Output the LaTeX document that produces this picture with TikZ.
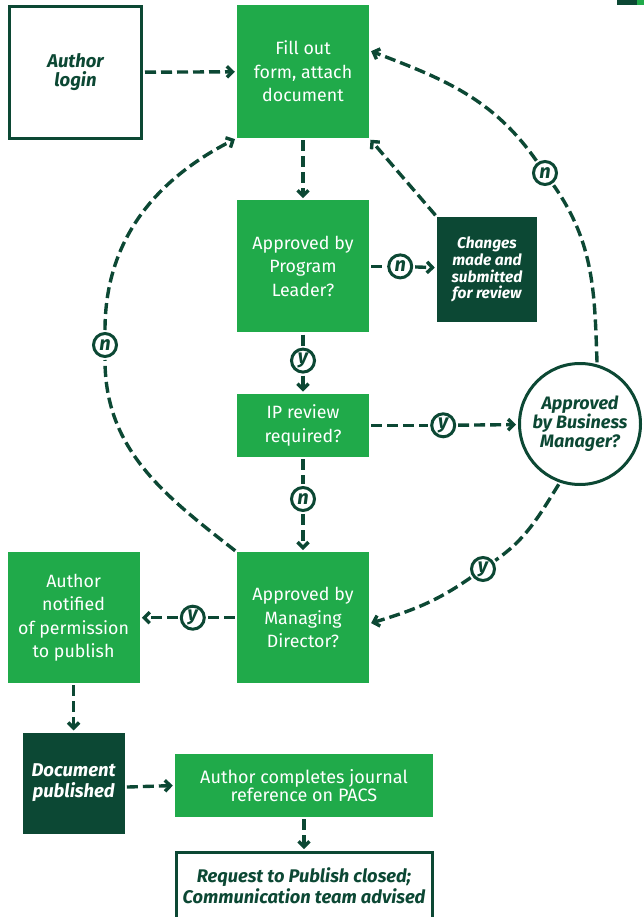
\documentclass[tikz,border=0pt]{standalone}
\usepackage{fontspec}
\setmainfont{Fira Sans}
\usetikzlibrary{arrows.meta,positioning,calc}
\definecolor{leaf}{RGB}{32,170,74}
\definecolor{pine}{RGB}{12,72,52}

\begin{document}
\begin{tikzpicture}[x=1pt,y=-1pt,>={Straight Barb[length=5.5pt,width=11pt]},
    dline/.style={draw=pine,line width=3.4pt,dash pattern=on 11pt off 5pt,
      shorten >=2pt,shorten <=2pt},
    greenbox/.style={fill=leaf,text=white,align=center,inner sep=0pt,
      minimum width=132pt,font=\fontsize{17.8}{23.5}\selectfont},
    darkbox/.style={fill=pine,text=white,align=center,inner sep=0pt,
      font=\bfseries\itshape\fontsize{18.5}{21}\selectfont},
    outbox/.style={draw=pine,line width=3pt,fill=white,text=pine,align=center,
      inner sep=0pt,font=\bfseries\itshape\fontsize{18.5}{19}\selectfont},
    yn/.style={circle,draw=pine,line width=3pt,fill=white,text=pine,inner sep=0pt,
      minimum size=23pt,font=\bfseries\itshape\fontsize{20}{20}\selectfont}]

    \useasboundingbox (0,0) rectangle (644,917);
    \fill[pine] (617,0) rectangle (637,5); \fill[leaf] (637,0) rectangle (644,5);

    \node[outbox,minimum width=132pt,minimum height=132pt] (login) at (75.5,72.5) {Author\\login};
    \node[greenbox,minimum height=133pt] (fill) at (303,71.5) {Fill out\\form, attach\\document};
    \node[greenbox,minimum height=132pt] (pl) [below=62pt of fill] {Approved by\\Program\\Leader?};
    \node[darkbox,minimum width=100pt,minimum height=105pt,
      font=\bfseries\itshape\fontsize{15.5}{16.7}\selectfont] (chg) at (487,269.5)
      {Changes\\made and\\submitted\\for review};
    \node[greenbox,minimum height=63pt] (ip) [below=61pt of pl] {IP review\\required?};
    \node[outbox,circle,minimum size=121pt,font=\bfseries\itshape\fontsize{18}{19}\selectfont]
      (bm) at (580,424) {Approved\\by Business\\Manager?};
    \node[greenbox,minimum height=131pt] (md) [below=95pt of ip] {Approved by\\Managing\\Director?};
    \node[greenbox,minimum height=131pt] (notif) [left=97pt of md]
      {Author\\notified\\of permission\\to publish};
    \node[darkbox,minimum width=102pt,minimum height=101pt] (pub) [below=49pt of notif]
      {Document\\published};
    \node[greenbox,minimum width=258pt,minimum height=63pt,font=\fontsize{18}{18.5}\selectfont]
      (comp) at (304,785.5) {Author completes journal\\reference on PACS};
    \node[outbox,minimum width=256pt,minimum height=67pt,
      font=\bfseries\itshape\fontsize{18.3}{21}\selectfont] (req) [below=34pt of comp]
      {Request to Publish closed;\\Communication team advised};

    \node[yn] (n1) [right=18pt of pl] {n}; \node[yn] (y1) [below=15pt of pl] {y};
    \node[yn] (y2) [right=61pt of ip] {y}; \node[yn] (n2) [below=29pt of ip] {n};
    \node[yn] (y3) [left=31pt of md] {y};
    \node[yn] (n3) at (545,173) {n}; \node[yn] (n4) at (105,345) {n};
    \node[yn] (y4) at (483,569) {y};

    \draw[dline,->] (login) -- (fill);
    \draw[dline,->] (fill) -- (pl);
    \draw[dline] (pl) -- (n1); \draw[dline,->] (n1) -- (chg);
    \draw[dline,->] (chg.north west) -- (fill.south east);
    \draw[dline] (pl) -- (y1); \draw[dline,->] (y1) -- (ip);
    \draw[dline] (ip) -- (y2); \draw[dline,->] (y2) -- (bm);
    \draw[dline] (ip) -- (n2); \draw[dline,->] (n2) -- (md);
    \draw[dline] (md) -- (y3); \draw[dline,->] (y3) -- (notif);
    \draw[dline,->] (notif) -- (pub);
    \draw[dline,->] ([yshift=-4pt]pub.east) -- (comp.west);
    \draw[dline,->] (comp) -- (req);

    \draw[dline] (bm.74) to[out=92,in=-55] (n3);
    \draw[dline,->] (n3) to[out=125,in=-21] ([yshift=21pt]fill.east);
    \draw[dline] (md.north west) to[out=142,in=-90] (n4);
    \draw[dline,->] (n4) to[out=90,in=-153] (fill.south west);
    \draw[dline] (bm.-109) to[out=-122,in=35] (y4);
    \draw[dline,->] (y4) to[out=215,in=17] ([yshift=-6pt]md.east);

\end{tikzpicture}
\end{document}
